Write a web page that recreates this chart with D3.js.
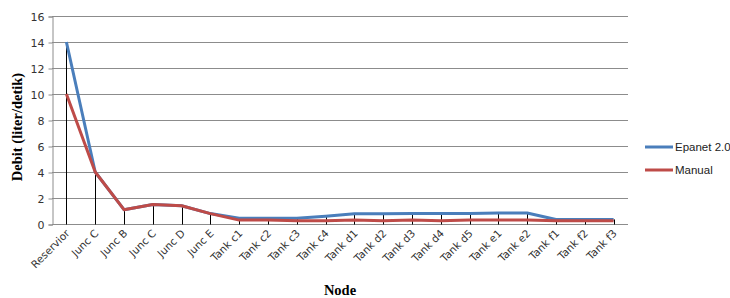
<!DOCTYPE html>
<html><head><meta charset="utf-8">
<script src="https://cdn.jsdelivr.net/npm/d3@7"></script>
<style>body{margin:0;background:#fff;}svg{display:block;}</style>
</head><body>
<svg id="c" width="730" height="298"></svg>
<script>
const categories = ["Reservior","Junc C","Junc B","Junc C","Junc D","Junc E","Tank c1","Tank c2","Tank c3","Tank c4","Tank d1","Tank d2","Tank d3","Tank d4","Tank d5","Tank e1","Tank e2","Tank f1","Tank f2","Tank f3"];
const epanet = [14.0,4.0,1.1,1.5,1.4,0.8,0.45,0.45,0.45,0.6,0.78,0.78,0.8,0.8,0.8,0.85,0.85,0.35,0.35,0.35];
const manual = [10.0,4.0,1.1,1.5,1.4,0.8,0.3,0.3,0.25,0.25,0.3,0.25,0.3,0.25,0.3,0.3,0.3,0.25,0.25,0.25];
const yTicks = [0,2,4,6,8,10,12,14,16];
const seriesNames = ["Epanet 2.0","Manual"];
const colors = ["#4a7ebb","#be4b48"];

const svg = d3.select("#c");
const L = 52, R = 628, T = 16, B = 224;
const x = d3.scaleBand().domain(d3.range(categories.length)).range([L, R]);
const y = d3.scaleLinear().domain([0,16]).range([B, T]);
const cx = i => x(i) + x.bandwidth()/2;
const sans = "Tahoma, 'Liberation Sans', Arial, sans-serif";

// gridlines
svg.append("g").selectAll("line").data(yTicks).join("line")
  .attr("x1", L).attr("x2", R).attr("y1", d=>y(d)+0.5).attr("y2", d=>y(d)+0.5)
  .attr("stroke", "#8c8c8c").attr("stroke-width", 1);

// y axis
const yAxis = d3.axisLeft(y).tickValues(yTicks).tickSize(4).tickPadding(4);
const gy = svg.append("g").attr("transform", `translate(${L+0.5},0.5)`).call(yAxis);
gy.select(".domain").attr("stroke", "#8c8c8c");
gy.selectAll(".tick line").attr("stroke", "#8c8c8c");
gy.selectAll("text").attr("font-family","'DejaVu Sans', sans-serif").attr("font-size", 11).attr("fill","#333");

// drop lines
svg.append("g").selectAll("line").data(categories).join("line")
  .attr("x1", (d,i)=>Math.round(cx(i))+0.5).attr("x2", (d,i)=>Math.round(cx(i))+0.5)
  .attr("y1", (d,i)=>y(Math.max(epanet[i], manual[i]))).attr("y2", B+0.5)
  .attr("stroke", "#000").attr("stroke-width", 1);

// x labels
svg.append("g").selectAll("text").data(categories).join("text")
  .attr("transform", (d,i)=>`translate(${cx(i)+4},${B+10}) rotate(-45)`)
  .attr("text-anchor","end")
  .attr("font-family","'DejaVu Sans', sans-serif").attr("font-size", 10.5).attr("fill","#333")
  .text(d=>d);

// series
const line = d3.line().x((d,i)=>cx(i)).y(d=>y(d));
[epanet, manual].forEach((s,k)=>{
  svg.append("path").datum(s).attr("d", line)
    .attr("fill","none").attr("stroke", colors[k]).attr("stroke-width", 3).attr("stroke-linejoin","round");
});

// legend
seriesNames.forEach((n,k)=>{
  const ly = 147 + k*23;
  svg.append("line").attr("x1",645).attr("x2",673).attr("y1",ly).attr("y2",ly)
    .attr("stroke", colors[k]).attr("stroke-width",3);
  svg.append("text").attr("x",675).attr("y",ly+4).text(n)
    .attr("font-family",sans).attr("font-size",11.5).attr("fill","#222");
});

// titles
svg.append("text").attr("transform",`translate(22,${(T+B)/2+7}) rotate(-90)`).attr("text-anchor","middle")
  .attr("font-family","'Liberation Serif', 'Times New Roman', serif").attr("font-weight","bold").attr("font-size",14.5)
  .text("Debit (liter/detik)");
svg.append("text").attr("x",340).attr("y",295).attr("text-anchor","middle")
  .attr("font-family","'Liberation Serif', 'Times New Roman', serif").attr("font-weight","bold").attr("font-size",14.5)
  .text("Node");
</script>
</body></html>
